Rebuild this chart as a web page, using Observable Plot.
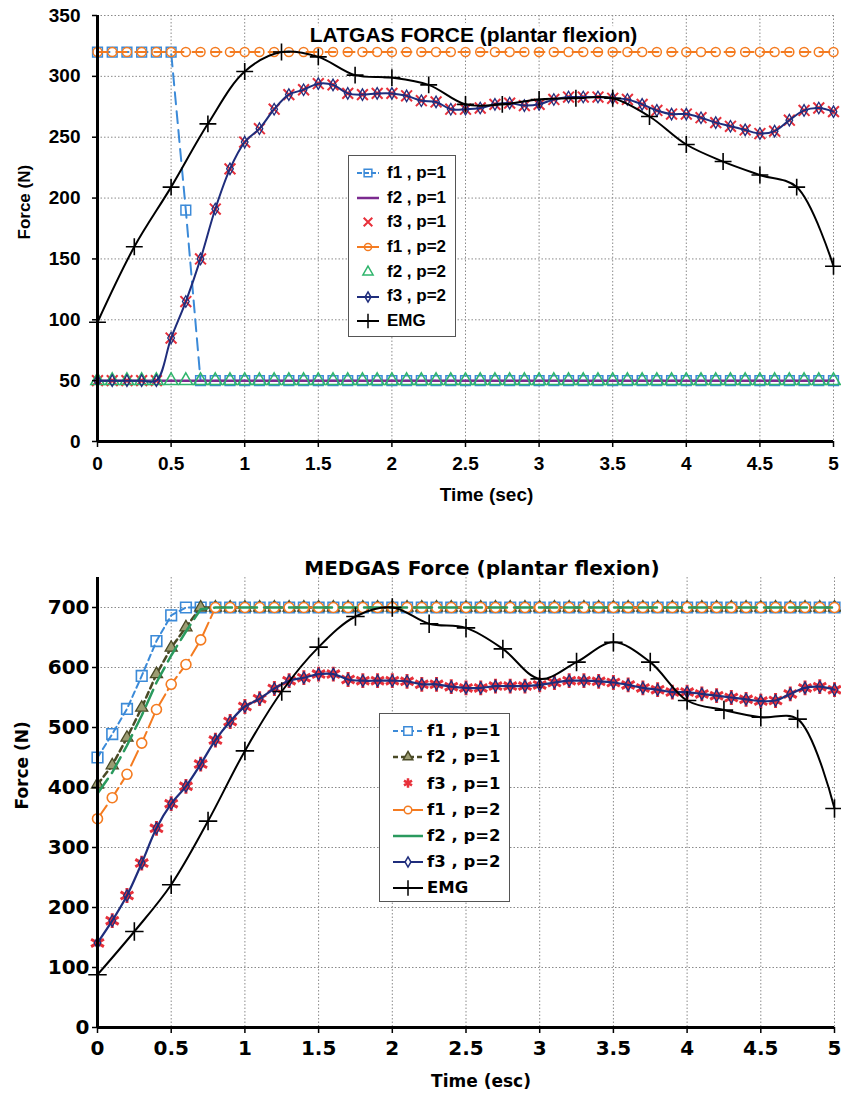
<!DOCTYPE html>
<html><head><meta charset="utf-8">
<script src="https://cdn.jsdelivr.net/npm/d3@7"></script>
<script src="https://cdn.jsdelivr.net/npm/@observablehq/plot@0.6"></script>
<style>
body{margin:0;background:#fff;}
#wrap{position:relative;width:841px;height:1107px;overflow:hidden;background:#fff;}
#top,#bot{position:absolute;left:0;}
#top{top:0}
#bot{top:530px}
#top g[aria-label$="tick label"] text{font-size:19px !important;font-weight:bold;font-family:'Liberation Sans',Arial,sans-serif;}
#bot g[aria-label$="tick label"] text{font-size:20px !important;font-weight:bold;font-family:'DejaVu Sans',sans-serif;}
.legend{position:absolute;background:#fff;border:1.5px solid #555;box-sizing:border-box;}
.lab{position:absolute;white-space:nowrap;font-weight:bold;color:#000;}
</style></head><body><div id="wrap"><div id="top"></div><div id="bot"></div></div>
<script>
// ---------- data ----------
const T10 = [0,0.1,0.2,0.3,0.4,0.5,0.6,0.7,0.8,0.9,1,1.1,1.2,1.3,1.4,1.5,1.6,1.7,1.8,1.9,2,2.1,2.2,2.3,2.4,2.5,2.6,2.7,2.8,2.9,3,3.1,3.2,3.3,3.4,3.5,3.6,3.7,3.8,3.9,4,4.1,4.2,4.3,4.4,4.5,4.6,4.7,4.8,4.9,5];
const T25 = [0,0.25,0.5,0.75,1,1.25,1.5,1.75,2,2.25,2.5,2.75,3,3.25,3.5,3.75,4,4.25,4.5,4.75,5];
const xTicks = [0,0.5,1,1.5,2,2.5,3,3.5,4,4.5,5];
const yTicksTop = [0,50,100,150,200,250,300,350];
const yTicksBot = [0,100,200,300,400,500,600,700];
const legendLabels = ["f1 , p=1","f2 , p=1","f3 , p=1","f1 , p=2","f2 , p=2","f3 , p=2","EMG"];

// LATGAS
const latF1p1 = [320,320,320,320,320,320,190,50,50,50, 50,50,50,50,50,50,50,50,50,50, 50,50,50,50,50,50,50,50,50,50, 50,50,50,50,50,50,50,50,50,50, 50,50,50,50,50,50,50,50,50,50, 50];
const latF2p1 = [50,50,50,50,50,50,50,50,50,50, 50,50,50,50,50,50,50,50,50,50, 50,50,50,50,50,50,50,50,50,50, 50,50,50,50,50,50,50,50,50,50, 50,50,50,50,50,50,50,50,50,50, 50];
const latF3p1 = [50,50,50,50,50,85,115,150,191,224, 246,257,273,285,289,294,293,286,285,286, 286,284,280,279,273,273,274,277,278,276, 277,281,283,283,283,282,281,277,272,269, 269,266,262,259,256,253,255,264,272,274, 271];
const latF1p2 = [320,320,320,320,320,320,320,320,320,320, 320,320,320,320,320,320,320,320,320,320, 320,320,320,320,320,320,320,320,320,320, 320,320,320,320,320,320,320,320,320,320, 320,320,320,320,320,320,320,320,320,320, 320];
const latF2p2 = [50,50,50,50,50,50,50,50,50,50, 50,50,50,50,50,50,50,50,50,50, 50,50,50,50,50,50,50,50,50,50, 50,50,50,50,50,50,50,50,50,50, 50,50,50,50,50,50,50,50,50,50, 50];
const latF3p2 = [50,50,50,50,50,85,115,150,191,224, 246,257,273,285,289,294,293,286,285,286, 286,284,280,279,273,273,274,277,278,276, 277,281,283,283,283,282,281,277,272,269, 269,266,262,259,256,253,255,264,272,274, 271];
const latEMG = [98,160,209,261,304,320,316,301,299,293,277,277,281,282,282,267,244,230,219,209,144];

// MEDGAS
const medF1p1 = [450,489,531,586,644,687,700,700,700,700, 700,700,700,700,700,700,700,700,700,700, 700,700,700,700,700,700,700,700,700,700, 700,700,700,700,700,700,700,700,700,700, 700,700,700,700,700,700,700,700,700,700, 700];
const medF2p1 = [405,437,483,533,589,633,667,700,700,700, 700,700,700,700,700,700,700,700,700,700, 700,700,700,700,700,700,700,700,700,700, 700,700,700,700,700,700,700,700,700,700, 700,700,700,700,700,700,700,700,700,700, 700];
const medF3p1 = [141,178,220,274,332,373,402,439,479,510, 535,548,565,578,583,589,589,580,578,578, 578,577,572,572,568,566,566,569,569,569, 571,575,578,578,577,575,571,566,563,559, 559,556,553,550,547,544,545,556,566,568, 563];
const medF1p2 = [348,383,422,474,530,572,605,646,700,700, 700,700,700,700,700,700,700,700,700,700, 700,700,700,700,700,700,700,700,700,700, 700,700,700,700,700,700,700,700,700,700, 700,700,700,700,700,700,700,700,700,700, 700];
const medF2p2 = [390,425,470,520,575,620,660,697,700,700, 700,700,700,700,700,700,700,700,700,700, 700,700,700,700,700,700,700,700,700,700, 700,700,700,700,700,700,700,700,700,700, 700,700,700,700,700,700,700,700,700,700, 700];
const medF3p2 = [141,178,220,274,332,373,402,439,479,510, 535,548,565,578,583,589,589,580,578,578, 578,577,572,572,568,566,566,569,569,569, 571,575,578,578,577,575,571,566,563,559, 559,556,553,550,547,544,545,556,566,568, 563];
const medEMG = [88,160,238,344,461,560,634,685,700,673,666,631,581,609,642,609,545,529,517,514,365];

// ---------- styling ----------
const C = {blue:"#3b8ad8", purple:"#7b2a8f", red:"#e8303a", orange:"#f47b20", green:"#2fb56c",
  navy:"#1f2d7c", olive:"#4a4a26", green2:"#2a9a5e"};
const grid = {stroke:"#8a8a8a", strokeOpacity:1, strokeDasharray:"1.5,2", strokeWidth:1};
const rows = (ts, vs) => ts.map((t,i)=>({t, v: vs[i]}));
const xy = {x:"t", y:"v"};
const FTOP = "'Liberation Sans', Arial, sans-serif";
const FBOT = "'DejaVu Sans', sans-serif";

// ---------- top chart ----------
const topPlot = Plot.plot({
  width: 841, height: 530,
  marginLeft: 97, marginRight: 8, marginTop: 15, marginBottom: 89,
  x: {domain:[0,5]},
  y: {domain:[0,350]},
  style: {fontFamily: FTOP, fontSize: "18px", fontWeight: "bold", color: "#000", background: "white", overflow: "visible"},
  marks: [
    Plot.gridX({ticks: xTicks, ...grid}),
    Plot.gridY({ticks: yTicksTop, ...grid}),
    Plot.text(["LATGAS FORCE (plantar flexion)"], {text: d=>d, frameAnchor:"top", dx:8, dy:12, fontSize:21, fontWeight:"bold", fill:"#000", stroke:"white", strokeWidth:10}),
    Plot.line(rows(T10, latF1p1), {...xy, stroke:C.blue, strokeWidth:2, strokeDasharray:"12,7"}),
    Plot.dot(rows(T10, latF1p1), {...xy, symbol:"square", r:5.5, stroke:C.blue, fill:"none", strokeWidth:1.5}),
    Plot.line(rows(T10, latF2p1), {...xy, stroke:C.purple, strokeWidth:2.5}),
    Plot.dot(rows(T10, latF3p1), {...xy, symbol:"times", r:5, stroke:C.red, strokeWidth:2}),
    Plot.line(rows(T10, latF1p2), {...xy, stroke:C.orange, strokeWidth:2, strokeDasharray:"10,9"}),
    Plot.dot(rows(T10, latF1p2), {...xy, symbol:"circle", r:4.5, stroke:C.orange, fill:"none", strokeWidth:1.5}),
    Plot.dot(rows(T10, latF2p2), {...xy, symbol:"triangle", r:5, stroke:C.green, fill:"none", strokeWidth:1.5}),
    Plot.line(rows(T10, latF3p2), {...xy, curve:"catmull-rom", stroke:C.navy, strokeWidth:2}),
    Plot.dot(rows(T10, latF3p2), {...xy, symbol:"diamond", r:3.5, stroke:C.navy, fill:"none", strokeWidth:1.3}),
    Plot.line(rows(T25, latEMG), {...xy, curve:"catmull-rom", stroke:"#000", strokeWidth:2}),
    Plot.dot(rows(T25, latEMG), {...xy, symbol:"plus", r:5.5, stroke:"#000", strokeWidth:1.6}),
    Plot.ruleX([0], {strokeWidth:3}),
    Plot.ruleY([0], {strokeWidth:3}),
    Plot.axisX({ticks: xTicks, tickFormat: d=>String(d), tickSize:6, tickPadding:9, strokeWidth:1.5, label:null, fontSize:19, fontWeight:"bold"}),
    Plot.axisY({ticks: yTicksTop, tickFormat: d=>String(d), tickSize:5, tickPadding:12, strokeWidth:1.5, label:null, fontSize:19, fontWeight:"bold"}),
    Plot.text(["Time (sec)"], {text: d=>d, frameAnchor:"bottom", dx:21, dy:59, fontSize:19, fontWeight:"bold"}),
    Plot.text(["Force (N)"], {text: d=>d, frameAnchor:"left", rotate:-90, dx:-73, dy:11, fontSize:17, fontWeight:"bold"})
  ]
});
document.getElementById("top").appendChild(topPlot);

// ---------- bottom chart ----------
const botPlot = Plot.plot({
  width: 841, height: 577,
  marginLeft: 97, marginRight: 7, marginTop: 47, marginBottom: 80,
  x: {domain:[0,5]},
  y: {domain:[0,750]},
  style: {fontFamily: FBOT, fontSize: "19px", fontWeight: "bold", color: "#000", background: "white", overflow: "visible"},
  marks: [
    Plot.gridX({ticks: xTicks, ...grid}),
    Plot.gridY({ticks: yTicksBot, ...grid}),
    Plot.line(rows(T10, medF1p1), {...xy, stroke:C.blue, strokeWidth:2, strokeDasharray:"6,4"}),
    Plot.dot(rows(T10, medF1p1), {...xy, symbol:"square", r:6, stroke:C.blue, fill:"none", strokeWidth:1.6}),
    Plot.line(rows(T10, medF2p1), {...xy, stroke:C.olive, strokeWidth:2.5, strokeDasharray:"6,4"}),
    Plot.dot(rows(T10, medF2p1), {...xy, symbol:"triangle", r:4.5, stroke:C.olive, fill:"#9c9c72", strokeWidth:1.3}),
    Plot.dot(rows(T10, medF3p1), {...xy, symbol:"asterisk", r:7, stroke:C.red, strokeWidth:3}),
    Plot.line(rows(T10, medF1p2), {...xy, stroke:C.orange, strokeWidth:2, strokeDasharray:"16,5"}),
    Plot.dot(rows(T10, medF1p2), {...xy, symbol:"circle", r:5, stroke:C.orange, fill:"white", strokeWidth:1.6}),
    Plot.line(rows(T10, medF2p2), {...xy, stroke:C.green2, strokeWidth:2.5, strokeDasharray:"18,7"}),
    Plot.line(rows(T10, medF3p2), {...xy, curve:"catmull-rom", stroke:C.navy, strokeWidth:2.2}),
    Plot.dot(rows(T10, medF3p2), {...xy, symbol:"diamond", r:3.5, stroke:C.navy, fill:"none", strokeWidth:1.3}),
    Plot.line(rows(T25, medEMG), {...xy, curve:"catmull-rom", stroke:"#000", strokeWidth:2}),
    Plot.dot(rows(T25, medEMG), {...xy, symbol:"plus", r:6, stroke:"#000", strokeWidth:1.6}),
    Plot.ruleX([0], {strokeWidth:3}),
    Plot.ruleY([0], {strokeWidth:3}),
    Plot.axisX({ticks: xTicks, tickFormat: d=>String(d), tickSize:6, tickPadding:7, strokeWidth:1.5, label:null, fontSize:20, fontWeight:"bold"}),
    Plot.axisY({ticks: yTicksBot, tickFormat: d=>String(d), tickSize:5, tickPadding:3, strokeWidth:1.5, label:null, fontSize:20, fontWeight:"bold"}),
    Plot.text(["MEDGAS Force (plantar flexion)"], {text: d=>d, frameAnchor:"top", dx:16, dy:-17, fontSize:20, fontWeight:"bold"}),
    Plot.text(["Time (esc)"], {text: d=>d, frameAnchor:"bottom", dx:15, dy:59, fontSize:17, fontWeight:"bold"}),
    Plot.text(["Force (N)"], {text: d=>d, frameAnchor:"left", rotate:-90, dx:-75, dy:7, fontSize:17, fontWeight:"bold"})
  ]
});
document.getElementById("bot").appendChild(botPlot);

// ---------- legends ----------
function legend(cfg, items){
  const box = document.createElement("div");
  box.className = "legend";
  Object.assign(box.style, {left: cfg.left+"px", top: cfg.top+"px", width: cfg.w+"px", height: cfg.h+"px"});
  items.forEach((it, i) => {
    const cy = cfg.rowTop + i*cfg.rowStep;
    const svg = d3.create("svg").attr("width", cfg.symW).attr("height", 20)
      .style("position","absolute").style("left", cfg.symLeft+"px").style("top", (cy-10)+"px");
    if (it.line) svg.append("line").attr("x1",0).attr("x2",cfg.symW).attr("y1",10).attr("y2",10)
      .attr("stroke", it.color).attr("stroke-width", it.lw || 2).attr("stroke-dasharray", it.dash || null);
    if (it.symbol) svg.append("path").attr("transform", `translate(${cfg.symW/2},10)`)
      .attr("d", d3.symbol(it.symbol, it.size)()).attr("fill", it.fill || "none")
      .attr("stroke", it.color).attr("stroke-width", it.sw || 1.5);
    box.appendChild(svg.node());
    const lab = document.createElement("div");
    lab.className = "lab";
    lab.textContent = legendLabels[i];
    Object.assign(lab.style, {left: cfg.textLeft+"px", top: (cy - cfg.fs*0.6)+"px", fontFamily: cfg.font, fontSize: cfg.fs+"px", lineHeight: (cfg.fs*1.2)+"px"});
    box.appendChild(lab);
  });
  document.getElementById("wrap").appendChild(box);
  return box;
}
legend({left:348, top:155, w:108, h:182, rowTop:17, rowStep:24.7, symLeft:8, symW:22, textLeft:38, font:FTOP, fs:17}, [
  {line:true, color:C.blue, symbol:d3.symbolSquare, size:60, dash:"5,2"},
  {line:true, color:C.purple, lw:2.5},
  {symbol:d3.symbolTimes, size:50, color:C.red, sw:2},
  {line:true, color:C.orange, symbol:d3.symbolCircle, size:40},
  {symbol:d3.symbolTriangle, size:45, color:C.green},
  {line:true, color:C.navy, symbol:d3.symbolDiamond, size:30},
  {line:true, color:"#000", symbol:d3.symbolPlus, size:70}
]);
legend({left:379, top:713, w:131, h:189, rowTop:17, rowStep:26.2, symLeft:13, symW:30, textLeft:47, font:FBOT, fs:16.5}, [
  {line:true, color:C.blue, symbol:d3.symbolSquare, size:70, dash:"5,3", fill:"white"},
  {line:true, color:C.olive, symbol:d3.symbolTriangle, size:40, dash:"5,3", fill:"#9c9c72", lw:2.5},
  {symbol:d3.symbolAsterisk, size:60, color:C.red, sw:2.5},
  {line:true, color:C.orange, symbol:d3.symbolCircle, size:45, fill:"white"},
  {line:true, color:C.green2, lw:2.5},
  {line:true, color:C.navy, symbol:d3.symbolDiamond, size:30, fill:"white"},
  {line:true, color:"#000", symbol:d3.symbolPlus, size:80}
]);
</script></body></html>
